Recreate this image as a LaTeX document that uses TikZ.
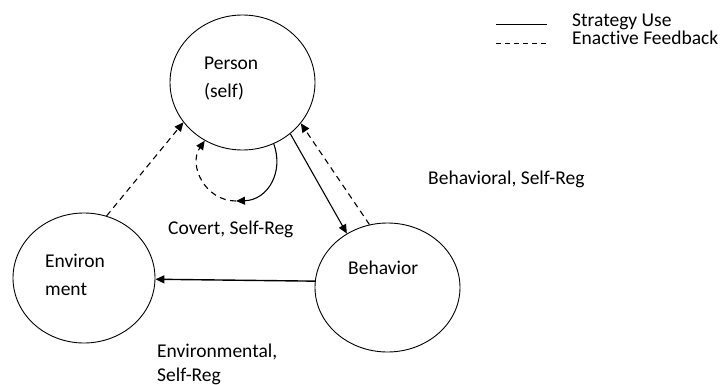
\documentclass[tikz,border=0pt]{standalone}
\usepackage{fontspec}
\setmainfont{Carlito}[Ligatures={NoCommon}]
\usetikzlibrary{shapes.geometric,arrows.meta}
\tikzset{
  circ/.style={draw, ellipse, line width=0.9pt, inner sep=0pt},
  lbl/.style={anchor=base west, inner sep=0pt, font=\fontsize{19.5}{22}\selectfont},
  tip/.style={-{Triangle[length=9pt,width=8pt]}},
  strat/.style={line width=1.1pt, tip},
  feed/.style={line width=1.1pt, dash pattern=on 6pt off 4.5pt, tip},
}
\begin{document}
\begin{tikzpicture}[x=1pt,y=-1pt]
\useasboundingbox (0,0) rectangle (725,385);
% ellipses
\node[circ, minimum width=145, minimum height=135] (person) at (242.5,82.5) {};
\node[circ, minimum width=142, minimum height=130] (env) at (84,278) {};
\node[circ, minimum width=145, minimum height=129] (beh) at (387.5,287.5) {};
% texts
\node[lbl] (t1) at (204,70) {Person};
\node[lbl] (t2) at (204,98) {(self)};
\node[lbl] (t3) at (45,267) {Environ};
\node[lbl] (t4) at (45,295) {ment};
\node[lbl] (t5) at (348,274) {Behavior};
\node[lbl] (t6) at (168,234) {Covert, Self-Reg};
\node[lbl] (t7) at (428,184) {Behavioral, Self-Reg};
\node[lbl] (t8) at (157,357) {Environmental,};
\node[lbl] (t9) at (157,381) {Self-Reg};
\node[lbl] (t10) at (572,27) {Strategy Use};
\node[lbl] (t11) at (572,45) {Enactive Feedback};
% legend
\coordinate (l1a) at (496,25); \coordinate (l1b) at (547,25);
\coordinate (l2a) at (496,43); \coordinate (l2b) at (547,43);
\draw[line width=1pt] (l1a) -- (l1b);
\draw[line width=0.8pt, dash pattern=on 5pt off 4pt] (l2a) -- (l2b);
% connectors
\draw[strat] (person.-47.9) -- (beh.127);
\draw[feed] (beh.106.8) -- (person.-35.1);
\draw[feed] (env.70.5) -- (person.-146);
\draw[strat, line width=1.4pt] (beh.175) -- (env.-1.5);
\coordinate (loop) at (236,201);
\draw[strat] (person.-63.3) .. controls (284,172) and (268,200) .. (loop);
\draw[feed] (loop) .. controls (205,201) and (188,165) .. (person.-123.6);
\end{tikzpicture}
\end{document}
